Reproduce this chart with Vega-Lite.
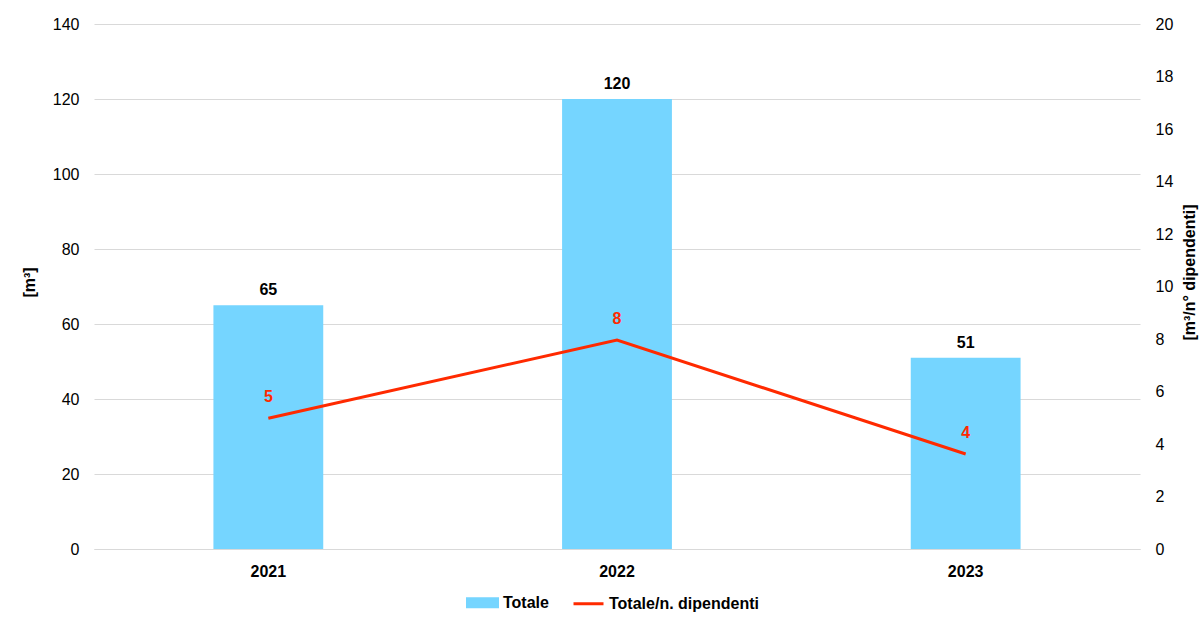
{
  "$schema": "https://vega.github.io/schema/vega-lite/v6.json",
  "autosize": {"type": "none"},
  "width": 1046,
  "height": 525,
  "padding": {"left": 94, "top": 24, "right": 62, "bottom": 72},
  "background": "white",
  "config": {
    "font": "Liberation Sans",
    "view": {"stroke": null},
    "axis": {"labelFont": "Liberation Sans", "titleFont": "Liberation Sans", "labelColor": "#000", "titleColor": "#000"}
  },
  "data": {
    "values": [
      {"anno": "2021", "totale": 65, "per_dipendente": 4.98},
      {"anno": "2022", "totale": 120, "per_dipendente": 7.96},
      {"anno": "2023", "totale": 51, "per_dipendente": 3.62}
    ]
  },
  "encoding": {
    "x": {
      "field": "anno",
      "type": "nominal",
      "scale": {"paddingInner": 0.685, "paddingOuter": 0.3425},
      "axis": {
        "title": null,
        "labelAngle": 0,
        "labelFontSize": 16,
        "labelFontWeight": "bold",
        "labelPadding": 14,
        "ticks": false,
        "domain": true,
        "domainColor": "#D9D9D9",
        "domainWidth": 1
      }
    }
  },
  "layer": [
    {
      "encoding": {
        "y": {
          "field": "totale",
          "type": "quantitative",
          "scale": {"domain": [0, 140], "nice": false},
          "axis": {
            "orient": "left",
            "title": "[m³]",
            "titleFontSize": 16,
            "titleFontWeight": "bold",
            "titleX": -65,
            "titleY": 258,
            "titleBaseline": "middle",
            "values": [0, 20, 40, 60, 80, 100, 120, 140],
            "labelFontSize": 16,
            "labelPadding": 15,
            "ticks": false,
            "domain": false,
            "grid": true,
            "gridColor": "#D9D9D9",
            "gridWidth": 1
          }
        }
      },
      "layer": [
        {
          "mark": {"type": "bar", "color": "#75D5FF"},
          "encoding": {
            "color": {
              "datum": "Totale",
              "scale": {"domain": ["Totale", "Totale/n. dipendenti"], "range": ["#75D5FF", "#FF2A00"]},
              "legend": {
                "title": null,
                "orient": "none",
                "direction": "horizontal",
                "legendX": 372,
                "legendY": 562,
                "labelFontSize": 16,
                "labelFontWeight": "bold",
                "labelColor": "#000",
                "labelFont": "Liberation Sans",
                "symbolSize": 900,
                "labelOffset": 4,
                "columnPadding": 18,
                "encode": {
                  "symbols": {
                    "update": {
                      "shape": {"signal": "datum.value === 'Totale' ? 'M-1,-0.27H1V0.27H-1Z' : 'stroke'"},
                      "fill": {"signal": "datum.value === 'Totale' ? '#75D5FF' : 'transparent'"},
                      "stroke": {"signal": "datum.value === 'Totale' ? 'transparent' : '#FF2A00'"},
                      "strokeWidth": {"value": 3},
                      "opacity": {"value": 1},
                      "fillOpacity": {"value": 1},
                      "strokeOpacity": {"value": 1}
                    }
                  }
                }
              }
            }
          }
        },
        {
          "mark": {"type": "text", "baseline": "bottom", "dy": -7, "fontSize": 16, "fontWeight": "bold", "color": "#000"},
          "encoding": {"text": {"field": "totale", "type": "quantitative"}}
        }
      ]
    },
    {
      "encoding": {
        "y": {
          "field": "per_dipendente",
          "type": "quantitative",
          "scale": {"domain": [0, 20], "nice": false},
          "axis": {
            "orient": "right",
            "title": "[m³/n° dipendenti]",
            "titleFontSize": 16,
            "titleFontWeight": "bold",
            "titleAngle": -90,
            "titleX": 49,
            "titleY": 248,
            "titleBaseline": "middle",
            "values": [0, 2, 4, 6, 8, 10, 12, 14, 16, 18, 20],
            "labelFontSize": 16,
            "labelPadding": 15,
            "ticks": false,
            "domain": false,
            "grid": false
          }
        }
      },
      "layer": [
        {
          "mark": {"type": "line", "strokeWidth": 3, "color": "#FF2A00"},
          "encoding": {
            "color": {"datum": "Totale/n. dipendenti"}
          }
        },
        {
          "mark": {"type": "text", "baseline": "bottom", "dy": -13, "fontSize": 16, "fontWeight": "bold", "color": "#FF2A00"},
          "encoding": {"text": {"field": "per_dipendente", "type": "quantitative", "format": ".0f"}}
        }
      ]
    }
  ],
  "resolve": {"scale": {"y": "independent"}}
}
